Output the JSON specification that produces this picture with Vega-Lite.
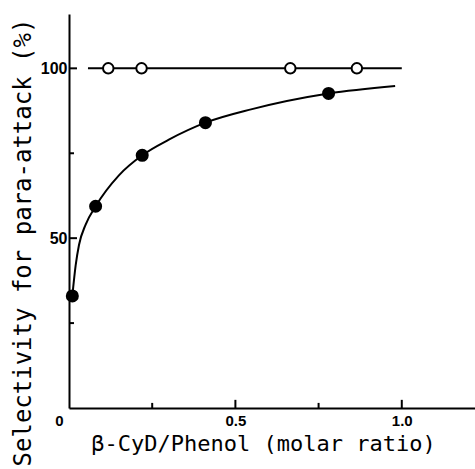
{
  "$schema": "https://vega.github.io/schema/vega-lite/v6.json",
  "width": 406,
  "height": 394,
  "autosize": {"type": "none"},
  "padding": {"left": 69, "top": 14, "right": 0, "bottom": 61},
  "background": "white",
  "config": {
    "view": {"stroke": null},
    "axis": {
      "grid": false,
      "ticks": false,
      "domainColor": "black",
      "domainWidth": 2,
      "labelColor": "black",
      "labelFont": "Liberation Sans",
      "labelFontWeight": "bold",
      "labelFontSize": 16,
      "titleFont": "DejaVu Sans Mono",
      "titleFontWeight": "normal",
      "titleColor": "black"
    }
  },
  "datasets": {
    "line100": [
      {"ratio": 0.057, "sel": 100},
      {"ratio": 1.0, "sel": 100}
    ],
    "curve": [
      {"ratio": 0.01, "sel": 33},
      {"ratio": 0.02, "sel": 42},
      {"ratio": 0.03, "sel": 48},
      {"ratio": 0.05, "sel": 54},
      {"ratio": 0.08, "sel": 59.4},
      {"ratio": 0.15, "sel": 68.5},
      {"ratio": 0.22, "sel": 74.4},
      {"ratio": 0.3, "sel": 79},
      {"ratio": 0.41, "sel": 84},
      {"ratio": 0.55, "sel": 88},
      {"ratio": 0.78, "sel": 92.6},
      {"ratio": 0.98, "sel": 94.8}
    ],
    "open": [
      {"ratio": 0.118, "sel": 100},
      {"ratio": 0.218, "sel": 100},
      {"ratio": 0.665, "sel": 100},
      {"ratio": 0.865, "sel": 100}
    ],
    "filled": [
      {"ratio": 0.01, "sel": 33},
      {"ratio": 0.08, "sel": 59.4},
      {"ratio": 0.22, "sel": 74.4},
      {"ratio": 0.41, "sel": 84},
      {"ratio": 0.78, "sel": 92.6}
    ],
    "xticks": [
      {"ratio": 0.25, "lo": 0, "hi": 1.5},
      {"ratio": 0.5, "lo": 0, "hi": 2.4},
      {"ratio": 0.75, "lo": 0, "hi": 1.5},
      {"ratio": 1.0, "lo": 0, "hi": 2.4}
    ],
    "yticks": [
      {"sel": 25, "lo": 0, "hi": 0.015},
      {"sel": 50, "lo": 0, "hi": 0.024},
      {"sel": 75, "lo": 0, "hi": 0.015},
      {"sel": 100, "lo": 0, "hi": 0.024}
    ]
  },
  "encoding": {
    "x": {
      "field": "ratio",
      "type": "quantitative",
      "scale": {"domain": [0, 1.22], "nice": false},
      "axis": {
        "values": [0, 0.5, 1],
        "labelExpr": "datum.value == 0 ? '0' : datum.value == 0.5 ? '0.5' : '1.0'",
        "labelAlign": {"condition": {"test": "datum.value == 0", "value": "right"}, "value": "center"},
        "labelOffset": {"condition": {"test": "datum.value == 0", "value": -6}, "value": 0},
        "labelPadding": 5,
        "labelFontSize": 15,
        "title": "β-CyD/Phenol (molar ratio)",
        "titleFontSize": 22,
        "titleX": 194,
        "titleY": 42,
        "titleBaseline": "alphabetic"
      }
    },
    "y": {
      "field": "sel",
      "type": "quantitative",
      "scale": {"domain": [0, 116], "nice": false},
      "axis": {
        "values": [50, 100],
        "labelPadding": 2,
        "title": "Selectivity for para-attack (%)",
        "titleFontSize": 24,
        "titleX": -39,
        "titleY": 228,
        "titleAlign": "center",
        "titleBaseline": "alphabetic"
      }
    }
  },
  "layer": [
    {
      "data": {"name": "xticks"},
      "mark": {"type": "rule", "color": "black", "strokeWidth": 2},
      "encoding": {
        "x": {"field": "ratio", "type": "quantitative"},
        "y": {"field": "lo", "type": "quantitative"},
        "y2": {"field": "hi"}
      }
    },
    {
      "data": {"name": "yticks"},
      "mark": {"type": "rule", "color": "black", "strokeWidth": 2},
      "encoding": {
        "y": {"field": "sel", "type": "quantitative"},
        "x": {"field": "lo", "type": "quantitative"},
        "x2": {"field": "hi"}
      }
    },
    {
      "data": {"name": "line100"},
      "mark": {"type": "line", "color": "black", "strokeWidth": 2}
    },
    {
      "data": {"name": "curve"},
      "mark": {"type": "line", "color": "black", "strokeWidth": 2, "interpolate": "monotone"}
    },
    {
      "data": {"name": "open"},
      "mark": {"type": "point", "shape": "circle", "filled": false, "fill": "white", "stroke": "black", "strokeWidth": 2, "size": 110, "opacity": 1}
    },
    {
      "data": {"name": "filled"},
      "mark": {"type": "point", "shape": "circle", "filled": true, "color": "black", "size": 170, "opacity": 1}
    }
  ]
}
